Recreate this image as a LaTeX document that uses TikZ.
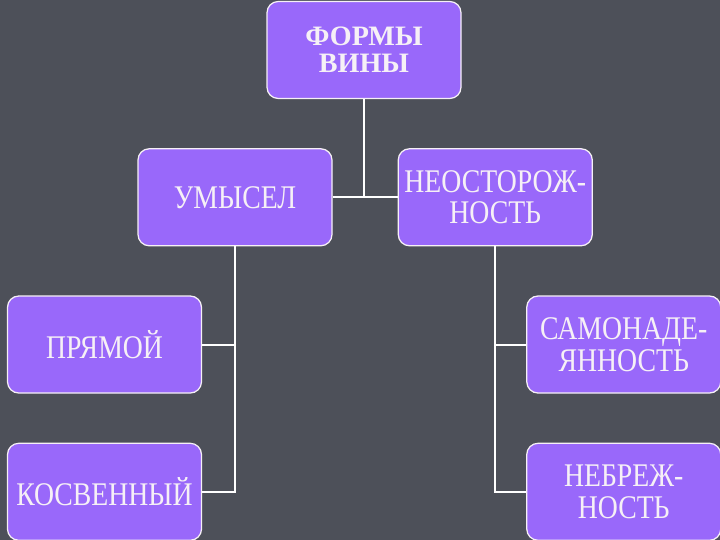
\documentclass[tikz,border=0pt]{standalone}
\usepackage{fontspec}
\setmainfont{Liberation Serif}
\newfontfamily\slimserif[FakeStretch=0.84]{Liberation Serif}
\usetikzlibrary{positioning}
\definecolor{slate}{RGB}{77,80,89}
\definecolor{lilac}{RGB}{153,104,250}
\definecolor{paper}{RGB}{246,240,246}
\tikzset{
  formbox/.style={rectangle, rounded corners=8pt,
    minimum width=4.85cm, minimum height=2.425cm, inner sep=0pt,
    text centered, draw=paper, line width=0.9pt, fill=lilac,
    text=paper, font=\slimserif\fontsize{23.5}{22.6}\selectfont, align=center},
  titlebox/.style={formbox, font=\fontsize{20}{19}\selectfont\bfseries},
  link/.style={draw=white, line width=1.4pt},
}
\begin{document}
\begin{tikzpicture}[node distance=1.225cm and 1.625cm]

\fill[slate] (0,0) rectangle (18,13.5);
\useasboundingbox (0,0) rectangle (18,13.5);

\node (forms) [titlebox] at (9.1,12.25)
  {ФОРМЫ\\ВИНЫ};

\node (intent) [formbox, below=of forms, xshift=-3.225cm]
  {УМЫСЕЛ};

\node (negl) [formbox, right=of intent]
  {НЕОСТОРОЖ-\\НОСТЬ};

\node (direct) [formbox, below=of intent, xshift=-3.2625cm]
  {ПРЯМОЙ};

\node (indirect) [formbox, below=of direct]
  {КОСВЕННЫЙ};

\node (selfconf) [formbox, below=of negl, xshift=3.2125cm]
  {САМОНАДЕ-\\ЯННОСТЬ};

\node (careless) [formbox, below=of selfconf]
  {НЕБРЕЖ-\\НОСТЬ};

\draw[link] (forms.south) -- (forms.south |- intent.east);
\draw[link] (intent.east) -- (negl.west);

\draw[link] (intent.south) |- (indirect.east);
\draw[link] (intent.south |- direct.east) -- (direct.east);

\draw[link] (negl.south) |- (careless.west);
\draw[link] (negl.south |- selfconf.west) -- (selfconf.west);

\end{tikzpicture}
\end{document}
